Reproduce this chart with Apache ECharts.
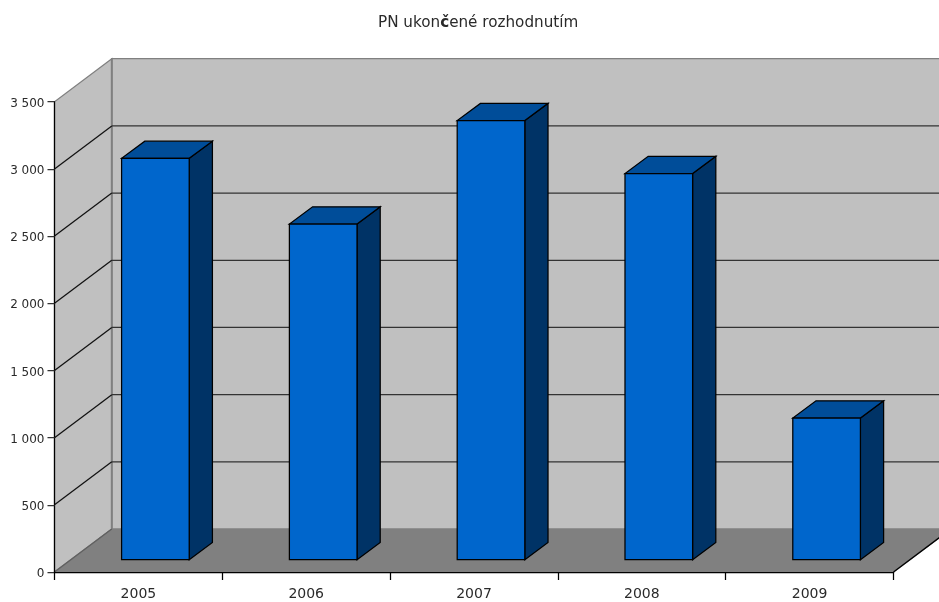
<!DOCTYPE html>
<html>
<head>
<meta charset="utf-8">
<title>PN ukončené rozhodnutím</title>
<script src="https://cdn.jsdelivr.net/npm/echarts@6/dist/echarts.min.js"></script>
<style>html,body{margin:0;padding:0;background:#fff}#chart{width:939px;height:602px}</style>
</head>
<body>
<div id="chart"></div>
<script>
const years = ['2005', '2006', '2007', '2008', '2009'];
const decided = [2987, 2498, 3268, 2874, 1054];
const gridValues = [500, 1000, 1500, 2000, 2500, 3000];
const axisMax = 3500;
const axisStep = 500;

// Projection of the box: how far the back plane sits behind the front plane.
const DEPTH_X = 57.3, DEPTH_Y = -43;
// Bars stand part way into the box and have a depth of their own.
const BAR_SHIFT_X = 17, BAR_SHIFT_Y = -12.3;
const BAR_DEPTH_X = 23.2, BAR_DEPTH_Y = -17.2;
const BAR_RATIO = 0.403;
const STROKE = 1.25;
const TEXT_COLOR = '#2a2a2a';

const poly = (points, fill, stroke) => ({
  type: 'polygon',
  shape: { points },
  style: { fill, stroke: stroke || fill, lineWidth: STROKE, lineJoin: 'miter' }
});
const line = (a, b, stroke, width) => ({
  type: 'line',
  shape: { x1: a[0], y1: a[1], x2: b[0], y2: b[1] },
  style: { stroke, lineWidth: width || STROKE }
});

function renderBox(params, api) {
  const band = api.size([1, 0])[0];
  const left = api.coord([0, 0])[0] - band / 2;
  const right = api.coord([years.length - 1, 0])[0] + band / 2;
  const y0 = api.coord([0, 0])[1];
  const yTop = api.coord([0, axisMax])[1];
  const backLeft = left + DEPTH_X, backRight = right + DEPTH_X;
  const children = [
    poly([[left, y0], [backLeft, y0 + DEPTH_Y], [backLeft, yTop + DEPTH_Y], [left, yTop]], '#c0c0c0', '#808080'),
    poly([[backLeft, y0 + DEPTH_Y], [backRight, y0 + DEPTH_Y], [backRight, yTop + DEPTH_Y], [backLeft, yTop + DEPTH_Y]], '#c0c0c0', '#808080'),
    poly([[left, y0], [right, y0], [backRight, y0 + DEPTH_Y], [backLeft, y0 + DEPTH_Y]], '#808080', '#808080'),
    line([backLeft, y0 + DEPTH_Y], [backLeft, yTop + DEPTH_Y], '#808080', 2)
  ];
  gridValues.forEach(v => {
    const y = api.coord([0, v])[1];
    children.push(line([left, y], [backLeft, y + DEPTH_Y], '#111111'));
    children.push(line([backLeft, y + DEPTH_Y], [backRight, y + DEPTH_Y], '#333333'));
  });
  children.push(line([left, y0], [backLeft, y0 + DEPTH_Y], '#606060'));
  children.push(line([right, y0], [backRight, y0 + DEPTH_Y], '#000000'));
  return { type: 'group', children };
}

function renderBar(params, api) {
  const base = api.coord([api.value(0), 0]);
  const top = api.coord([api.value(0), api.value(1)]);
  const w = api.size([1, 0])[0] * BAR_RATIO;
  const x1 = base[0] + BAR_SHIFT_X - w / 2;
  const x2 = x1 + w;
  const yb = base[1] + BAR_SHIFT_Y;
  const yt = top[1] + BAR_SHIFT_Y;
  const dx = BAR_DEPTH_X, dy = BAR_DEPTH_Y;
  return {
    type: 'group',
    children: [
      poly([[x2, yb], [x2 + dx, yb + dy], [x2 + dx, yt + dy], [x2, yt]], '#003366', '#000000'),
      poly([[x1, yt], [x2, yt], [x2 + dx, yt + dy], [x1 + dx, yt + dy]], '#004d99', '#000000'),
      poly([[x1, yb], [x2, yb], [x2, yt], [x1, yt]], '#0066cc', '#000000')
    ]
  };
}

const chart = echarts.init(document.getElementById('chart'), null, { renderer: 'canvas' });
chart.setOption({
  animation: false,
  backgroundColor: '#ffffff',
  textStyle: { fontFamily: '"DejaVu Sans", sans-serif' },
  title: {
    text: 'PN ukon{b|č}ené rozhodnutím',
    left: 373,
    top: 11,
    textStyle: {
      fontFamily: '"DejaVu Sans", sans-serif',
      fontSize: 15.2,
      fontWeight: 'normal',
      color: TEXT_COLOR,
      rich: { b: { fontFamily: '"DejaVu Sans", sans-serif', fontSize: 15.2, fontWeight: 'bold', color: TEXT_COLOR } }
    }
  },
  grid: { left: 54.5, right: 45.5, top: 101.7, bottom: 30, containLabel: false },
  xAxis: {
    type: 'category',
    data: years,
    z: 10,
    axisLine: { lineStyle: { color: '#000000', width: STROKE } },
    axisTick: { show: true, length: 8, alignWithLabel: false, lineStyle: { color: '#000000', width: STROKE } },
    axisLabel: { color: TEXT_COLOR, fontSize: 14, margin: 15, fontFamily: '"DejaVu Sans", sans-serif' },
    splitLine: { show: false }
  },
  yAxis: {
    type: 'value',
    min: 0,
    max: axisMax,
    interval: axisStep,
    z: 10,
    axisLine: { show: true, lineStyle: { color: '#000000', width: STROKE } },
    axisTick: { show: true, length: 7, lineStyle: { color: '#333333', width: STROKE } },
    axisLabel: {
      color: TEXT_COLOR,
      fontSize: 12,
      margin: 10,
      fontFamily: '"DejaVu Sans", sans-serif',
      formatter: v => '{tick|' + String(v).replace(/\B(?=(\d{3})+$)/, ' ') + '}',
      rich: {
        tick: {
          color: TEXT_COLOR,
          fontSize: 12,
          fontFamily: '"DejaVu Sans", sans-serif',
          padding: [4, 0, 0, 0]
        }
      }
    },
    splitLine: { show: false }
  },
  series: [
    {
      type: 'custom',
      name: 'box',
      z: 1,
      silent: true,
      renderItem: renderBox,
      data: [[0, 0]],
      encode: { x: 0, y: 1 }
    },
    {
      type: 'custom',
      name: 'PN ukončené rozhodnutím',
      z: 2,
      renderItem: renderBar,
      data: decided.map((v, i) => [i, v]),
      encode: { x: 0, y: 1 }
    }
  ]
});
</script>
</body>
</html>
